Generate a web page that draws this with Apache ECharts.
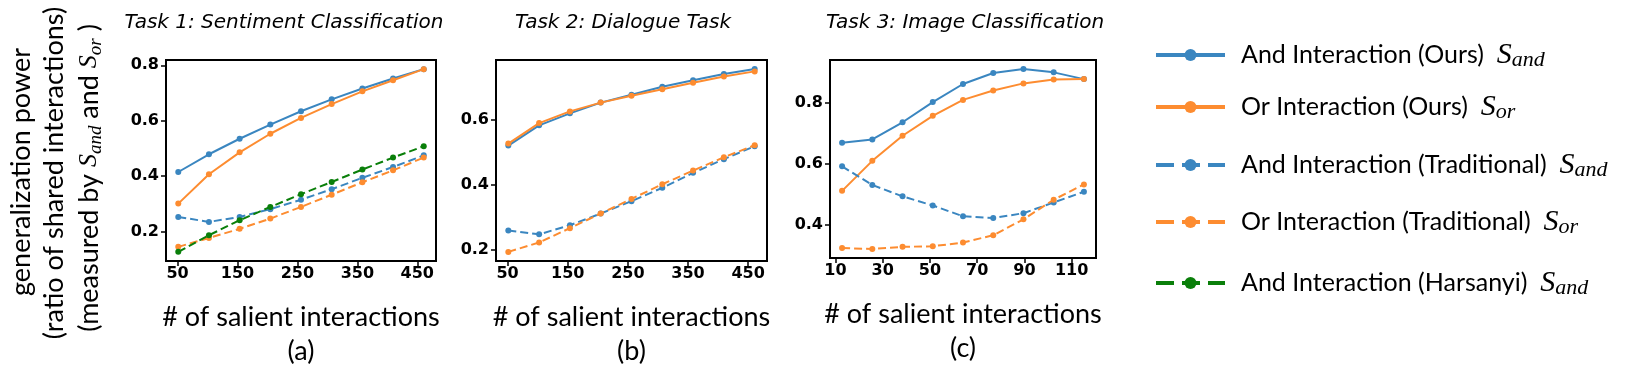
<!DOCTYPE html>
<html>
<head>
<meta charset="utf-8">
<script src="https://cdn.jsdelivr.net/npm/echarts@6/dist/echarts.min.js"></script>
<style>
  html, body { margin: 0; padding: 0; background: #fff; }
  #main { width: 1644px; height: 377px; }
</style>
</head>
<body>
<div id="main"></div>
<script>
// x positions of the points
var xs12 = [51.2, 102.4, 153.6, 204.8, 256, 307.2, 358.4, 409.6, 460.8];
var xs3 = [12.8, 25.6, 38.4, 51.2, 64, 76.8, 89.6, 102.4, 115.2];

// Task 1: Sentiment Classification
var t1AndOurs = [0.415, 0.479, 0.535, 0.586, 0.634, 0.677, 0.716, 0.752, 0.786];
var t1OrOurs = [0.301, 0.407, 0.486, 0.553, 0.610, 0.660, 0.706, 0.746, 0.786];
var t1AndTrad = [0.253, 0.235, 0.253, 0.281, 0.315, 0.353, 0.394, 0.433, 0.475];
var t1OrTrad = [0.145, 0.177, 0.210, 0.247, 0.289, 0.333, 0.378, 0.421, 0.467];
var t1AndHars = [0.127, 0.187, 0.241, 0.289, 0.335, 0.379, 0.424, 0.467, 0.508];

// Task 2: Dialogue Task
var t2AndOurs = [0.521, 0.583, 0.620, 0.653, 0.677, 0.702, 0.722, 0.741, 0.756];
var t2OrOurs = [0.527, 0.590, 0.626, 0.653, 0.674, 0.694, 0.714, 0.733, 0.749];
var t2AndTrad = [0.260, 0.248, 0.276, 0.312, 0.350, 0.391, 0.437, 0.479, 0.519];
var t2OrTrad = [0.194, 0.223, 0.267, 0.312, 0.357, 0.402, 0.444, 0.485, 0.522];

// Task 3: Image Classification
var t3AndOurs = [0.669, 0.680, 0.736, 0.802, 0.861, 0.897, 0.910, 0.899, 0.877];
var t3OrOurs = [0.512, 0.610, 0.692, 0.757, 0.809, 0.840, 0.863, 0.876, 0.877];
var t3AndTrad = [0.592, 0.531, 0.494, 0.464, 0.429, 0.423, 0.439, 0.474, 0.509];
var t3OrTrad = [0.325, 0.322, 0.329, 0.331, 0.343, 0.367, 0.419, 0.483, 0.533];

// tick labels
var xTicks12 = [50, 150, 250, 350, 450];
var xTicks3 = [10, 30, 50, 70, 90, 110];
var yTicks1 = [0.2, 0.4, 0.6, 0.8];
var yTicks2 = [0.2, 0.4, 0.6];
var yTicks3 = [0.4, 0.6, 0.8];

var titles = ['Task 1: Sentiment Classification', 'Task 2: Dialogue Task', 'Task 3: Image Classification'];
var panelTags = ['(a)', '(b)', '(c)'];
var names = ['And Interaction (Ours)', 'Or Interaction (Ours)', 'And Interaction (Traditional)',
             'Or Interaction (Traditional)', 'And Interaction (Harsanyi)'];
var subs = ['and', 'or', 'and', 'or', 'and'];

var BLUE = '#3a86c0', ORANGE = '#fd8c30', GREEN = '#0a7f0a';
var colors = [BLUE, ORANGE, BLUE, ORANGE, GREEN];
var dashed = [false, false, true, true, true];

function pairs(xs, ys) {
    return ys.map(function (v, i) { return [xs[i], v]; });
}

var panelData = [
    [t1AndOurs, t1OrOurs, t1AndTrad, t1OrTrad, t1AndHars],
    [t2AndOurs, t2OrOurs, t2AndTrad, t2OrTrad, null],
    [t3AndOurs, t3OrOurs, t3AndTrad, t3OrTrad, null]
];
var panelX = [xs12, xs12, xs3];

var grids = [
    {left: 166, top: 60, width: 270, height: 201},
    {left: 496, top: 60, width: 271, height: 201},
    {left: 830, top: 60, width: 266, height: 198}
];
var xRanges = [[30.72, 481.28], [30.72, 481.28], [7.68, 120.32]];
var yRanges = [[0.094, 0.819], [0.166, 0.784], [0.2926, 0.9394]];
var xTickSets = [xTicks12, xTicks12, xTicks3];
var yTickSets = [yTicks1, yTicks2, yTicks3];
var titleX = [284, 623, 965];

var tickFont = {color: '#000', fontFamily: 'DejaVu Sans', fontWeight: 'bold', fontSize: 16};

var xAxes = [], yAxes = [], series = [];
for (var p = 0; p < 3; p++) {
    xAxes.push({
        type: 'value', gridIndex: p, min: xRanges[p][0], max: xRanges[p][1],
        name: '# of salient interactions\n' + panelTags[p],
        nameLocation: 'middle', nameGap: 39,
        nameTextStyle: {fontFamily: 'Lato', fontSize: 27, color: '#000', lineHeight: 34},
        axisLine: {show: false},
        axisTick: {show: true, length: 5, lineStyle: {color: '#000', width: 1.5}, customValues: xTickSets[p]},
        axisLabel: Object.assign({margin: 5, customValues: xTickSets[p],
            formatter: function (v) { return String(Math.round(v)); }}, tickFont),
        splitLine: {show: false}
    });
    yAxes.push({
        type: 'value', gridIndex: p, min: yRanges[p][0], max: yRanges[p][1],
        axisLine: {show: false},
        axisTick: {show: true, length: 5, lineStyle: {color: '#000', width: 1.5}, customValues: yTickSets[p]},
        axisLabel: Object.assign({margin: 7, customValues: yTickSets[p],
            formatter: function (v) { return v.toFixed(1); }}, tickFont),
        splitLine: {show: false}
    });
    for (var s = 0; s < 5; s++) {
        if (!panelData[p][s]) continue;
        series.push({
            name: names[s], type: 'line', xAxisIndex: p, yAxisIndex: p,
            data: pairs(panelX[p], panelData[p][s]),
            symbol: 'circle', symbolSize: 6, showSymbol: true,
            color: colors[s],
            lineStyle: {width: 2, color: colors[s], type: dashed[s] ? [8, 4] : 'solid'},
            itemStyle: {color: colors[s]},
            z: 2 + s
        });
    }
}

function mathRich(big, small) {
    return {
        s: {fontFamily: 'Liberation Serif', fontStyle: 'italic', fontSize: big, lineHeight: 32, color: '#000'},
        sub: {fontFamily: 'Liberation Serif', fontStyle: 'italic', fontSize: small, lineHeight: 18,
              verticalAlign: 'bottom', color: '#000'}
    };
}

var legendY = [55, 107, 165, 222, 283];
var legends = names.map(function (n, i) {
    return {
        data: [n], orient: 'vertical', left: 1154, top: legendY[i] - 16, padding: 0,
        itemWidth: 69, itemHeight: 15, selectedMode: false,
        lineStyle: {width: 4, type: dashed[i] ? [18, 8] : 'solid'},
        formatter: function (name) { return name + '  {s|S}{sub|' + subs[i] + '}'; },
        textStyle: {fontFamily: 'Lato', fontSize: 25, color: '#000', lineHeight: 32,
                    padding: [0, 0, 0, 11], rich: mathRich(30, 22)}
    };
});

var yLabelFont = {fontFamily: 'Lato', fontSize: 27, fill: '#000'};
var option = {
    animation: false,
    backgroundColor: '#fff',
    title: titles.map(function (t, i) {
        return {text: t, left: titleX[i], top: 13, textAlign: 'center', padding: 0,
                textStyle: {fontFamily: 'DejaVu Sans', fontStyle: 'italic', fontWeight: 'normal',
                            fontSize: 20, color: '#000'}};
    }),
    grid: grids.map(function (g) {
        return Object.assign({show: true, borderColor: '#000', borderWidth: 2, backgroundColor: 'transparent'}, g);
    }),
    xAxis: xAxes,
    yAxis: yAxes,
    legend: legends,
    series: series,
    graphic: [
        {type: 'text', x: 21, y: 172, rotation: Math.PI / 2,
         style: Object.assign({text: 'generalization power', align: 'center', verticalAlign: 'middle'}, yLabelFont)},
        {type: 'text', x: 54, y: 173, rotation: Math.PI / 2,
         style: Object.assign({text: '(ratio of shared interactions)', align: 'center', verticalAlign: 'middle'}, yLabelFont)},
        {type: 'text', x: 89, y: 178, rotation: Math.PI / 2,
         style: Object.assign({text: '(measured by {s|S}{sub|and} and {s|S}{sub|or} )',
                               align: 'center', verticalAlign: 'middle', lineHeight: 32,
                               rich: mathRich(26, 19)}, yLabelFont)}
    ]
};

var chart = echarts.init(document.getElementById('main'));
chart.setOption(option);
</script>
</body>
</html>
